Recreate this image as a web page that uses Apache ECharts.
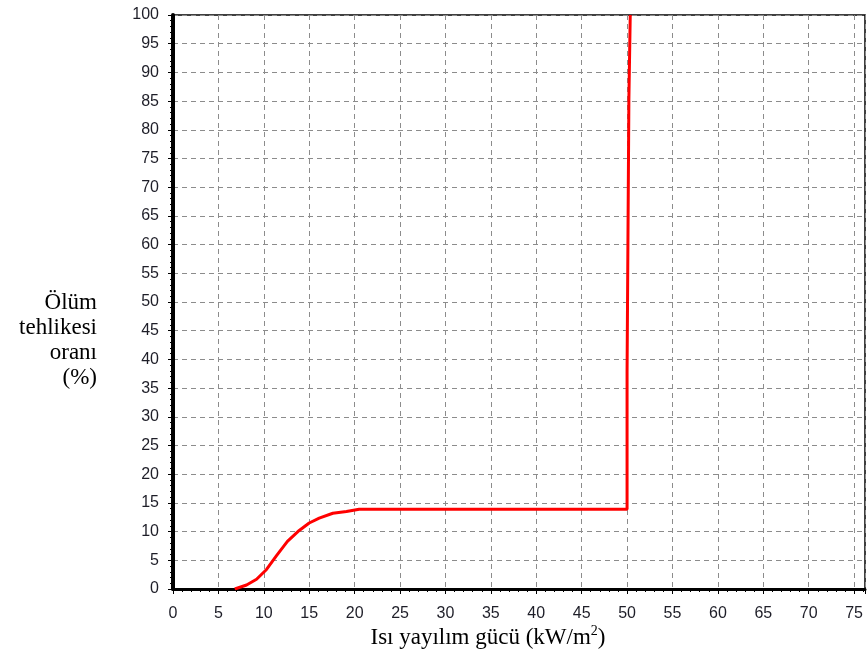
<!DOCTYPE html>
<html>
<head>
<meta charset="utf-8">
<script src="https://cdn.jsdelivr.net/npm/echarts@6/dist/echarts.min.js"></script>
<style>
  html, body { margin: 0; padding: 0; background: #fff; }
  #chart { width: 867px; height: 666px; }
</style>
</head>
<body>
<div id="chart"></div>
<script>
// Heat flux (kW/m²) against fatality probability (%)
const heatFlux = [6.8, 8.1, 9.2, 10.3, 11.4, 12.6, 13.9, 15.0, 16.1, 17.6, 19.1, 20.5, 21.6, 50.0, 50.0, 50.2, 50.2, 50.35, 50.35];
const fatality = [0, 0.7, 1.7, 3.4, 5.8, 8.3, 10.2, 11.5, 12.35, 13.2, 13.5, 13.9, 13.9, 13.9, 37.7, 37.7, 85.3, 85.3, 100];

const xTicks = [0, 5, 10, 15, 20, 25, 30, 35, 40, 45, 50, 55, 60, 65, 70, 75];
const yTicks = [0, 5, 10, 15, 20, 25, 30, 35, 40, 45, 50, 55, 60, 65, 70, 75, 80, 85, 90, 95, 100];

const yTitleLines = ['Ölüm', 'tehlikesi', 'oranı', '(%)'];
const xTitle = 'Isı yayılım gücü (kW/m';
const xTitleSup = '2';

const chart = echarts.init(document.getElementById('chart'), null, { renderer: 'canvas' });

const labelFont = { color: '#1e1e28', fontFamily: 'Liberation Sans, Arial, sans-serif', fontSize: 16 };
const gridLine = { show: true, lineStyle: { color: '#8c8c8c', width: 1, type: [5, 4] } };

chart.setOption({
  animation: false,
  backgroundColor: '#ffffff',
  grid: {
    left: 173, right: 2, top: 15, bottom: 77,
    show: true, borderColor: '#000', borderWidth: 1.5, backgroundColor: 'transparent'
  },
  xAxis: {
    type: 'value', min: 0, max: 76.2, interval: 5,
    axisLine: { show: true, onZero: false, lineStyle: { color: '#000', width: 3 } },
    axisTick: { show: true, inside: false, length: 5, lineStyle: { color: '#000', width: 1 } },
    minorTick: { show: true, splitNumber: 5, length: 3, lineStyle: { color: '#000', width: 1 } },
    splitLine: gridLine,
    axisLabel: Object.assign({
      margin: 17,
      showMaxLabel: false,
      formatter: v => (xTicks.indexOf(v) >= 0 ? String(v) : '')
    }, labelFont)
  },
  yAxis: {
    type: 'value', min: 0, max: 100, interval: 5,
    axisLine: { show: true, onZero: false, lineStyle: { color: '#000', width: 4 } },
    axisTick: { show: true, inside: false, length: 5, lineStyle: { color: '#000', width: 1 } },
    minorTick: { show: true, splitNumber: 5, length: 3, lineStyle: { color: '#000', width: 1 } },
    splitLine: gridLine,
    axisLabel: Object.assign({
      margin: 14,
      formatter: v => (yTicks.indexOf(v) >= 0 ? String(v) : '')
    }, labelFont)
  },
  series: [{
    type: 'line',
    data: heatFlux.map((x, i) => [x, fatality[i]]),
    showSymbol: false,
    symbol: 'none',
    smooth: false,
    clip: true,
    lineStyle: { color: '#ff0000', width: 3 },
    z: 5
  }],
  graphic: [
    {
      type: 'text',
      x: 97, y: 290,
      style: {
        text: yTitleLines.join('\n'),
        align: 'right',
        verticalAlign: 'top',
        font: '23px "Liberation Serif", "Times New Roman", serif',
        lineHeight: 25,
        fill: '#000'
      }
    },
    {
      type: 'text',
      x: 488, y: 638,
      style: {
        text: '{a|' + xTitle + '}{s|' + xTitleSup + '}{a|)}',
        align: 'center',
        verticalAlign: 'middle',
        rich: {
          a: { fontFamily: 'Liberation Serif, Times New Roman, serif', fontSize: 23, lineHeight: 28, fill: '#000', color: '#000' },
          s: { fontFamily: 'Liberation Serif, Times New Roman, serif', fontSize: 14, lineHeight: 28, verticalAlign: 'top', fill: '#000', color: '#000' }
        }
      }
    }
  ]
});
</script>
</body>
</html>
